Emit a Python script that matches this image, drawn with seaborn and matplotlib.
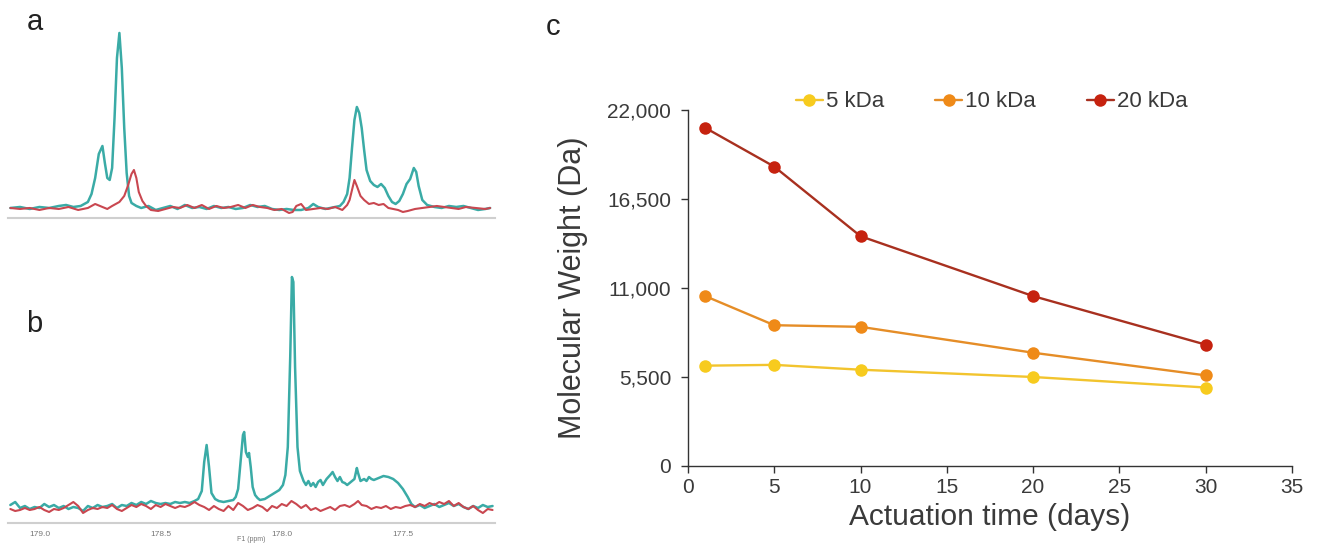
import numpy as np
import pandas as pd
import seaborn as sns
import matplotlib.pyplot as plt

# ---- panel c: molecular weight vs actuation time ----
days = [1, 5, 10, 20, 30]
mw_5kda = [6200, 6250, 5950, 5500, 4850]
mw_10kda = [10500, 8700, 8600, 7000, 5600]
mw_20kda = [20900, 18500, 14200, 10500, 7500]
series_names = ["5 kDa", "10 kDa", "20 kDa"]
line_colors = ["#f2c42e", "#e58d27", "#a8301f"]
marker_colors = ["#f7cb1e", "#ef8a18", "#c6220f"]
y_ticks = [0, 5500, 11000, 16500, 22000]
x_ticks = [0, 5, 10, 15, 20, 25, 30, 35]

# ---- panel a: 13C spectrum (ppm, intensity), teal and red traces ----
a_teal_ppm = [179.12, 179.08, 179.04, 179.00, 178.96, 178.92, 178.89, 178.86, 178.83, 178.80,
              178.785, 178.77, 178.755, 178.74, 178.73, 178.72, 178.71, 178.70, 178.69, 178.68,
              178.67, 178.66, 178.65, 178.64, 178.63, 178.62, 178.60, 178.58, 178.55, 178.52,
              178.49, 178.46, 178.43, 178.40, 178.37, 178.34, 178.31, 178.28, 178.25, 178.22,
              178.19, 178.16, 178.13, 178.10, 178.07, 178.04, 178.01, 177.98, 177.95, 177.92,
              177.89, 177.87, 177.85, 177.82, 177.80, 177.78, 177.76, 177.745, 177.73, 177.72,
              177.71, 177.70, 177.69, 177.68, 177.67, 177.66, 177.65, 177.635, 177.62, 177.605,
              177.59, 177.575, 177.56, 177.545, 177.53, 177.515, 177.50, 177.485, 177.47, 177.455,
              177.445, 177.435, 177.42, 177.40, 177.37, 177.34, 177.31, 177.28, 177.25, 177.22,
              177.19, 177.16, 177.14]
a_teal_int = [0, 1, -1, 1, 0, 2, 3, 1, 2, 6,
              14, 30, 54, 62, 45, 30, 28, 40, 90, 150,
              175, 140, 80, 35, 12, 5, 2, 0, 2, -2,
              0, 2, -1, 3, 0, 1, -1, 2, 0, 1,
              -1, 0, 3, 1, 2, -1, -2, -1, -2, -2,
              0, 4, 1, -1, 0, 1, 2, 6, 14, 30,
              60, 88, 101, 95, 80, 58, 38, 27, 23, 21,
              24, 20, 12, 6, 4, 7, 14, 24, 29, 40,
              36, 22, 8, 3, 1, 0, 2, 1, 2, 0,
              -2, -1, 0]
a_red_ppm = [179.12, 179.08, 179.04, 179.00, 178.96, 178.92, 178.88, 178.84, 178.80, 178.77,
             178.74, 178.72, 178.70, 178.67, 178.65, 178.635, 178.62, 178.61, 178.60, 178.59,
             178.575, 178.56, 178.54, 178.51, 178.48, 178.45, 178.42, 178.39, 178.36, 178.33,
             178.30, 178.27, 178.24, 178.21, 178.18, 178.15, 178.12, 178.09, 178.06, 178.03,
             178.00, 177.97, 177.955, 177.94, 177.92, 177.90, 177.87, 177.84, 177.81, 177.78,
             177.75, 177.73, 177.72, 177.71, 177.70, 177.69, 177.675, 177.66, 177.64, 177.62,
             177.60, 177.58, 177.56, 177.54, 177.52, 177.50, 177.48, 177.45, 177.42, 177.39,
             177.36, 177.33, 177.30, 177.27, 177.24, 177.20, 177.16, 177.14]
a_red_int = [0, -1, 0, -2, 0, -1, 1, -2, 0, 4,
             1, -1, 2, 6, 12, 22, 34, 38, 30, 16,
             7, 2, -2, -3, -1, 1, 0, 3, 0, 3,
             -1, 2, 0, 1, 3, 0, 3, 1, 0, -2,
             -1, -5, -4, 2, 4, -2, -1, 0, -1, 1,
             -2, 3, 8, 18, 28, 22, 12, 8, 4, 5,
             3, 4, 0, -1, -2, -4, -3, -1, 0, 1,
             2, 1, 0, -1, 1, 0, -1, 0]

# ---- panel b ----
b_teal_ppm = [179.12, 179.10, 179.08, 179.06, 179.04, 179.02, 179.00, 178.98, 178.96, 178.94,
              178.92, 178.90, 178.88, 178.86, 178.84, 178.82, 178.80, 178.78, 178.76, 178.74,
              178.72, 178.70, 178.68, 178.66, 178.64, 178.62, 178.60, 178.58, 178.56, 178.54,
              178.52, 178.50, 178.48, 178.46, 178.44, 178.42, 178.40, 178.38, 178.36, 178.345,
              178.33, 178.32, 178.31, 178.30, 178.29, 178.275, 178.26, 178.24, 178.22, 178.20,
              178.19, 178.18, 178.17, 178.16, 178.155, 178.148, 178.14, 178.135, 178.128, 178.12,
              178.11, 178.10, 178.09, 178.07, 178.05, 178.03, 178.01, 177.995, 177.985, 177.975,
              177.965, 177.958, 177.952, 177.945, 177.935, 177.925, 177.91, 177.90, 177.89, 177.88,
              177.87, 177.86, 177.85, 177.84, 177.83, 177.815, 177.80, 177.79, 177.78, 177.77,
              177.76, 177.75, 177.74, 177.73, 177.72, 177.70, 177.69, 177.685, 177.675, 177.66,
              177.65, 177.64, 177.63, 177.62, 177.60, 177.58, 177.56, 177.54, 177.52, 177.50,
              177.48, 177.465, 177.45, 177.43, 177.41, 177.39, 177.37, 177.35, 177.33, 177.31,
              177.29, 177.27, 177.25, 177.23, 177.21, 177.19, 177.17, 177.15, 177.13]
b_teal_int = [2, 5, -1, 1, -2, 0, -1, 3, 0, 2,
              -1, 1, -2, 0, -1, -4, 1, -1, 2, 0,
              1, 3, -1, 2, 1, 4, 2, 5, 3, 6,
              4, 3, 4, 3, 5, 4, 5, 4, 6, 8,
              16, 45, 62, 40, 14, 8, 6, 5, 6, 7,
              10, 18, 45, 72, 75, 55, 50, 54, 40, 20,
              12, 9, 7, 8, 11, 14, 17, 22, 32, 60,
              150, 230, 225, 140, 60, 36, 26, 22, 26, 21,
              24, 20, 25, 27, 22, 28, 32, 35, 30, 26,
              30, 25, 24, 22, 24, 28, 39, 34, 26, 28,
              26, 30, 28, 27, 29, 31, 30, 28, 24, 18,
              10, 3, 0, 2, -1, 1, 3, 0, 2, 4,
              1, 3, 0, -2, 1, -1, 2, 0, 1]
b_red_ppm = [179.12, 179.10, 179.08, 179.06, 179.04, 179.02, 179.00, 178.98, 178.96, 178.94,
             178.92, 178.90, 178.88, 178.86, 178.84, 178.82, 178.80, 178.78, 178.76, 178.74,
             178.72, 178.70, 178.68, 178.66, 178.64, 178.62, 178.60, 178.58, 178.56, 178.54,
             178.52, 178.50, 178.48, 178.46, 178.44, 178.42, 178.40, 178.38, 178.36, 178.34,
             178.32, 178.30, 178.28, 178.26, 178.24, 178.22, 178.20, 178.18, 178.16, 178.14,
             178.12, 178.10, 178.08, 178.06, 178.04, 178.02, 178.00, 177.98, 177.96, 177.94,
             177.92, 177.90, 177.88, 177.86, 177.84, 177.82, 177.80, 177.78, 177.76, 177.74,
             177.72, 177.70, 177.685, 177.67, 177.65, 177.63, 177.61, 177.59, 177.57, 177.55,
             177.53, 177.51, 177.49, 177.47, 177.45, 177.43, 177.41, 177.39, 177.37, 177.35,
             177.33, 177.31, 177.29, 177.27, 177.25, 177.23, 177.21, 177.19, 177.17, 177.15,
             177.13]
b_red_int = [-2, -4, -3, -1, -3, -2, 0, -3, -5, -2,
             -3, -1, 2, 5, 1, -6, -3, -1, -2, 0,
             -1, 2, -2, -4, -1, 2, 0, 3, 1, -2,
             2, 0, 3, 1, -1, 1, 0, 2, 5, 2,
             0, -3, 1, -2, -4, 1, -3, 4, 1, -3,
             -1, 2, 0, -4, 1, -1, 3, 1, 6, 3,
             -1, 2, -3, -1, -4, -2, 0, -3, 1, 2,
             0, 3, 6, 2, 1, -2, 0, -1, 1, -2,
             0, -1, 1, 2, 0, 3, 1, 4, 2, 5,
             3, 6, 1, 4, 0, -2, 1, -3, -6, -2,
             -3]
b_tick_ppm = [179.0, 178.5, 178.0, 177.5]

teal = "#3aaba6"
red = "#c94750"
text_color = "#3a3a3a"

sns.set_theme(style="white")
plt.rcParams["font.family"] = ["Liberation Sans", "DejaVu Sans"]

fig = plt.figure(figsize=(13.21, 5.44), dpi=100)


def spectrum(ax, teal_ppm, teal_int, red_ppm, red_int, ylim):
    df_t = pd.DataFrame({"ppm": teal_ppm, "I": teal_int})
    df_r = pd.DataFrame({"ppm": red_ppm, "I": red_int})
    sns.lineplot(data=df_t, x="ppm", y="I", ax=ax, color=teal, linewidth=1.8,
                 estimator=None)
    sns.lineplot(data=df_r, x="ppm", y="I", ax=ax, color=red, linewidth=1.5,
                 estimator=None)
    ax.set_xlim(179.13, 177.12)
    ax.set_ylim(*ylim)
    for s in ["top", "right", "left"]:
        ax.spines[s].set_visible(False)
    ax.spines["bottom"].set_color("#cfcfcf")
    ax.spines["bottom"].set_linewidth(1.5)
    ax.set_yticks([])
    ax.set_ylabel("")


# panel a
ax_a = fig.add_axes([0.006, 0.5993, 0.3687, 0.3493])
spectrum(ax_a, a_teal_ppm, a_teal_int, a_red_ppm, a_red_int, (-10, 180))
ax_a.set_xticks([])
ax_a.set_xlabel("")

# panel b
ax_b = fig.add_axes([0.006, 0.0386, 0.3687, 0.4706])
spectrum(ax_b, b_teal_ppm, b_teal_int, b_red_ppm, b_red_int, (-16, 240))
ax_b.set_xticks(b_tick_ppm)
ax_b.set_xticklabels([f"{t:.1f}" for t in b_tick_ppm])
ax_b.tick_params(axis="x", length=0, pad=6, labelsize=6, labelcolor="#777777")
ax_b.set_xlabel("F1 (ppm)", fontsize=5, color="#777777", labelpad=-1.5)

# panel c
df_c = pd.DataFrame({
    "days": days * 3,
    "mw": mw_5kda + mw_10kda + mw_20kda,
    "series": [n for n in series_names for _ in days],
})
ax_c = fig.add_axes([0.5208, 0.1434, 0.4572, 0.6544])
sns.lineplot(data=df_c, x="days", y="mw", hue="series", style="series",
             palette=line_colors, markers=["o", "o", "o"], dashes=False,
             markersize=9, markeredgewidth=0, linewidth=1.7, ax=ax_c)
for line, mc in zip(ax_c.get_lines()[:3], marker_colors):
    line.set_markerfacecolor(mc)
handles, labels = ax_c.get_legend_handles_labels()
for h, mc in zip(handles, marker_colors):
    h.set_markerfacecolor(mc)
    h.set_markeredgewidth(0)
    h.set_markersize(9)
ax_c.legend(handles, labels, loc="center", bbox_to_anchor=(0.503, 1.023), ncol=3,
            frameon=False, fontsize=16, handlelength=1.2, handletextpad=0.15,
            columnspacing=2.3, labelcolor=text_color)

ax_c.set_xlim(0, 35)
ax_c.set_ylim(0, 22000)
ax_c.set_xticks(x_ticks)
ax_c.set_yticks(y_ticks)
ax_c.set_yticklabels([f"{v:,}" for v in y_ticks])
sns.despine(ax=ax_c)
for s in ["left", "bottom"]:
    ax_c.spines[s].set_color("#333333")
    ax_c.spines[s].set_linewidth(1.0)
ax_c.tick_params(axis="both", direction="out", length=5, width=1, color="#333333",
                 labelsize=15, labelcolor=text_color, left=True, bottom=True)
ax_c.tick_params(axis="y", pad=7)
ax_c.tick_params(axis="x", pad=4)
ax_c.set_xlabel("Actuation time (days)", fontsize=21.5, color=text_color, labelpad=4)
ax_c.set_ylabel("Molecular Weight (Da)", fontsize=22, color=text_color, labelpad=14)

fig.text(0.020, 0.9449, "a", fontsize=21, color="#222222", ha="left", va="baseline")
fig.text(0.020, 0.3897, "b", fontsize=21, color="#222222", ha="left", va="baseline")
fig.text(0.413, 0.9357, "c", fontsize=21, color="#222222", ha="left", va="baseline")

fig.savefig("out.png", dpi=100)
